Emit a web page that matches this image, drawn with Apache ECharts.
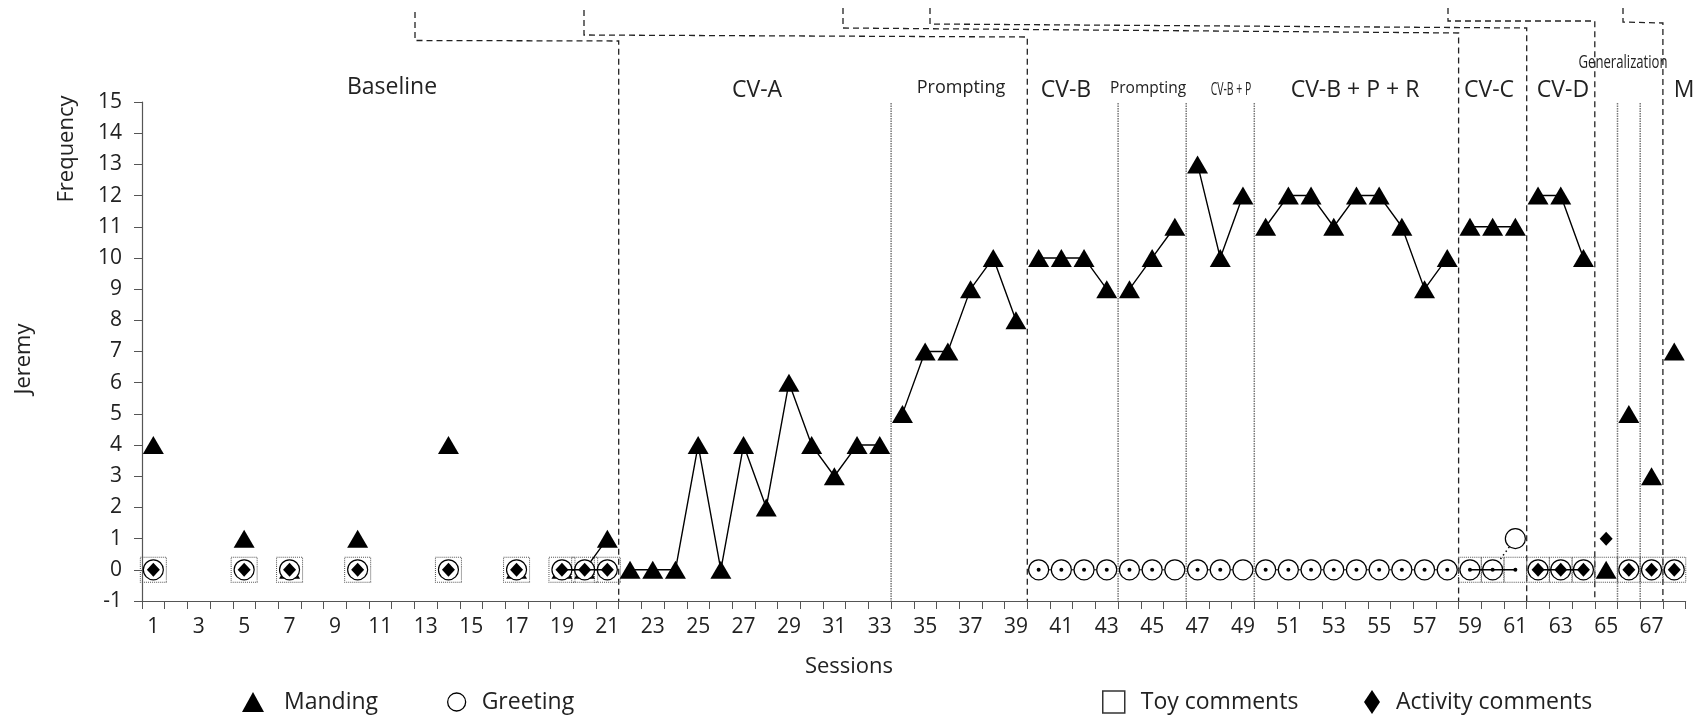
<!DOCTYPE html>
<html><head><meta charset="utf-8">
<script src="https://cdn.jsdelivr.net/npm/echarts@6/dist/echarts.min.js"></script>
<style>html,body{margin:0;padding:0;background:#fff}#c{width:1695px;height:719px}</style>
</head><body><div id="c"></div>
<script>
// ---- data ----
const sessions = ["1","2","3","4","5","6","7","8","9","10","11","12","13","14","15","16","17","18","19","20","21","22","23","24","25","26","27","28","29","30","31","32","33","34","35","36","37","38","39","40","41","42","43","44","45","46","47","48","49","50","51","52","53","54","55","56","57","58","59","60","61","62","63","64","65","66","67","68"];
const _ = null;
const manding = [4,_,_,_,1,_,0,_,_,1,_,_,_,4,_,_,0,_,0,0,1,
  0,0,0,4,0,4,2,6,4,3,4,4,
  5,7,7,9,10,8,
  10,10,10,9,
  9,10,11,
  13,10,12,
  11,12,12,11,12,12,11,9,10,
  11,11,11,
  12,12,10,
  0,5,3,7];
const greeting = [0,_,_,_,0,_,0,_,_,0,_,_,_,0,_,_,0,_,0,0,0,
  _,_,_,_,_,_,_,_,_,_,_,_,
  _,_,_,_,_,_,
  0,0,0,0,
  0,0,0,
  0,0,0,
  0,0,0,0,0,0,0,0,0,
  0,0,1,
  0,0,0,
  _,0,0,0];
const toyComments = [0,_,_,_,0,_,0,_,_,0,_,_,_,0,_,_,0,_,0,0,0,
  _,_,_,_,_,_,_,_,_,_,_,_,
  _,_,_,_,_,_,
  _,_,_,_,
  _,_,_,
  _,_,_,
  _,_,_,_,_,_,_,_,_,
  0,0,0,
  0,0,0,
  0,0,0,0];
const activityComments = [0,_,_,_,0,_,0,_,_,0,_,_,_,0,_,_,0,_,0,0,0,
  _,_,_,_,_,_,_,_,_,_,_,_,
  _,_,_,_,_,_,
  _,_,_,_,
  _,_,_,
  _,_,_,
  _,_,_,_,_,_,_,_,_,
  _,_,_,
  0,0,0,
  1,0,0,0];
// small dot marks drawn inside the greeting circles
const dotMarks = [_,_,_,_,_,_,_,_,_,_,_,_,_,_,_,_,_,_,_,_,_,
  _,_,_,_,_,_,_,_,_,_,_,_,
  _,_,_,_,_,_,
  0,0,0,0,
  0,0,_,
  0,0,_,
  0,0,0,0,0,0,0,0,0,
  0,0,0,
  _,_,_,
  _,_,_,_];
// phases: [first session, last session]
const phases = [[1,21],[22,33],[34,39],[40,43],[44,46],[47,49],[50,58],[59,61],[62,64],[65,65],[66,66],[67,67],[68,68]];
const phaseNames = ["Baseline","CV-A","Prompting","CV-B","Prompting","CV-B + P","CV-B + P + R","CV-C","CV-D","Generalization","M"];
const yTicks = {min:-1, max:15, step:1};

// ---- styles ----
const FONT = "'Open Sans', sans-serif";
const TXT = '#222';
const chart = echarts.init(document.getElementById('c'), null, {renderer:'canvas'});

function segs(name, values, base, lineFor) {
  return phases.map(([a,b], k) => Object.assign({
    type:'line', name,
    data: values.map((v,i) => (i+1>=a && i+1<=b) ? v : null),
    connectNulls:false, showSymbol:true, showAllSymbol:true,
    animation:false, emphasis:{disabled:true}, silent:true,
  }, base, lineFor ? {lineStyle: lineFor(k, base.lineStyle)} : {}));
}

const series = [].concat(
  segs('Toy comments', toyComments, {
    z:2, symbol:'rect',
    symbolSize: [23,25],
    itemStyle:{color:'rgba(255,255,255,0)', borderColor:'#555', borderWidth:1, borderType:'dotted'},
    lineStyle:{width:0, opacity:0}
  }, (k) => ({width:0, opacity:0})),
  segs('Manding', manding, {
    z:3, symbol:'triangle', symbolSize:[21,18],
    itemStyle:{color:'#000'}, lineStyle:{color:'#000', width:1.4}
  }),
  segs('Greeting', greeting, {
    z:4, symbol:'circle', symbolSize:20,
    itemStyle:{color:'#fff', borderColor:'#000', borderWidth:1.2},
    lineStyle:{color:'#000', width:1}
  }, (k) => (k === 7 ? {color:'#000', width:1.5, type:[1.5,3]} : {color:'#000', width:1})),
  segs('Activity comments', activityComments, {
    z:5, symbol:'diamond', symbolSize:[13,14],
    itemStyle:{color:'#000'}, lineStyle:{color:'#000', width:1.6}
  }),
  segs('marks', dotMarks, {
    z:6, symbol:'circle', symbolSize:4,
    itemStyle:{color:'#000'}, lineStyle:{color:'#000', width:1.6}
  }, (k) => (k === 7 ? {color:'#000', width:1.6} : {width:0, opacity:0}))
);
// baseline squares are larger
series.filter(s => s.name === 'Toy comments').forEach((s, k) => { if (k === 0) s.symbolSize = [26,25]; });

function legendItem(name, icon, left, w, h, pad, itemStyle) {
  return {
    show:true, selectedMode:false, left, top:684, orient:'horizontal',
    itemWidth:w, itemHeight:h,
    data:[{name, icon, itemStyle}],
    textStyle:{fontFamily:FONT, fontSize:23, color:TXT, padding:[0,0,0,pad], lineHeight:26}
  };
}

chart.setOption({
  backgroundColor:'#fff',
  animation:false,
  grid:{left:142, right:9.4, top:102, bottom:118, containLabel:false},
  xAxis:{
    type:'category', data:sessions, boundaryGap:true,
    axisLine:{onZero:false, lineStyle:{color:'#555', width:1.2}},
    axisTick:{show:true, interval:0, length:8, lineStyle:{color:'#555'}},
    axisLabel:{interval:1, fontFamily:FONT, fontSize:21, color:TXT, margin:16},
    splitLine:{show:false}
  },
  yAxis:{
    type:'value', min:yTicks.min, max:yTicks.max, interval:yTicks.step,
    axisLine:{show:true, lineStyle:{color:'#555', width:1.2}},
    axisTick:{show:true, length:8, lineStyle:{color:'#555'}},
    axisLabel:{fontFamily:FONT, fontSize:21, color:TXT, margin:20},
    splitLine:{show:false}
  },
  legend:[
    legendItem('Manding','triangle',237,22,20,15,{color:'#000'}),
    legendItem('Greeting','circle',442,18,18,11,{color:'#fff', borderColor:'#000', borderWidth:1.3}),
    legendItem('Toy comments','rect',1097,22,22,11,{color:'#fff', borderColor:'#333', borderWidth:1.5, borderType:'solid'}),
    legendItem('Activity comments','diamond',1359,16,24,11,{color:'#000'})
  ],
  series
});

// ---- phase lines & labels (positions from the axis scales) ----
const px = i => chart.convertToPixel({xAxisIndex:0}, i);
const xb = s => (px(s-1) + px(s)) / 2;           // boundary after session s
const yBot = chart.convertToPixel({yAxisIndex:0}, yTicks.min);
const dashed = {stroke:'#222', lineWidth:1.3, lineDash:[6,4], fill:null};
const dotted = {stroke:'#777', lineWidth:1.5, lineDash:[1.5,1], fill:null};
const g = [];
function pl(points, style){ g.push({type:'polyline', silent:true, z:1, shape:{points}, style}); }
pl([[415,12],[415,40.5],[xb(21),41],[xb(21),yBot]], dashed);
pl([[584,10],[584,35],[xb(39),37],[xb(39),yBot]], dashed);
pl([[843,8],[843,28],[xb(58),33],[xb(58),yBot]], dashed);
pl([[930,8],[930,24],[xb(61),28],[xb(61),yBot]], dashed);
pl([[1448,8],[1448,21],[xb(64),21],[xb(64),yBot]], dashed);
pl([[1623,8],[1623,22],[xb(67),23],[xb(67),yBot]], dashed);
[33,43,46,49,65,66].forEach(s => pl([[xb(s),103],[xb(s),yBot]], dotted));

function txt(t, x, y, size, extra){
  g.push(Object.assign({type:'text', silent:true, z:10, x, y,
    style:{text:t, x:0, y:0, align:'center', verticalAlign:'middle', fontFamily:FONT, fontSize:size, fill:TXT}}, extra||{}));
}
txt(phaseNames[0], 392, 87, 23);
txt(phaseNames[1], 757, 90, 23);
txt(phaseNames[2], 961, 88, 18);
txt(phaseNames[3], 1066, 90, 23);
txt(phaseNames[4], 1148, 89, 15.5);
txt(phaseNames[5], 1231, 90, 18, {scaleX:0.58});
txt(phaseNames[6], 1355, 90, 23);
txt(phaseNames[7], 1489, 90, 23);
txt(phaseNames[8], 1563, 90, 23);
txt(phaseNames[9], 1623, 63, 18, {scaleX:0.73});
txt(phaseNames[10], 1684, 90, 23);
txt('Frequency', 67, 149, 22, {rotation:Math.PI/2});
txt('Jeremy', 24, 359, 22, {rotation:Math.PI/2});
txt('Sessions', 849, 667, 22);

chart.setOption({graphic:g});
</script>
</body></html>
